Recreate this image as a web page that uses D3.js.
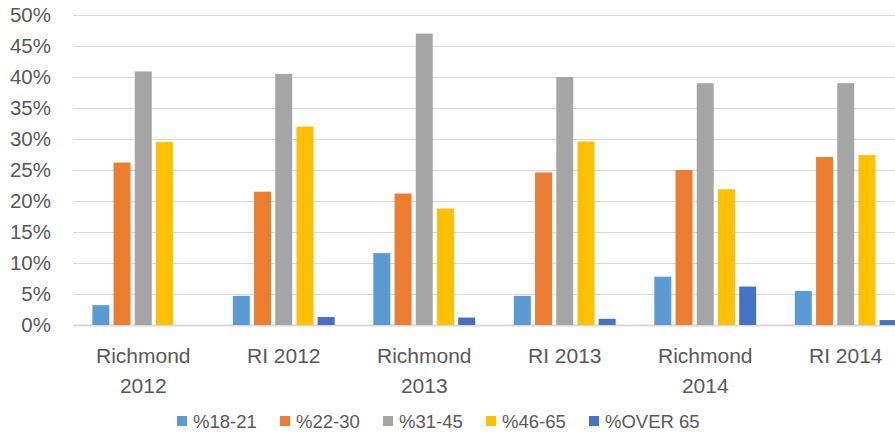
<!DOCTYPE html>
<html>
<head>
<meta charset="utf-8">
<script src="https://cdn.jsdelivr.net/npm/d3@7"></script>
<style>
  html, body { margin: 0; padding: 0; background: #fff; overflow: hidden; }
  svg { display: block; }
  text { font-family: "Liberation Sans", Arial, sans-serif; fill: #595959; }
</style>
</head>
<body>
<svg id="chart" width="895" height="433"></svg>
<script>
// ---- Data ----
const categories = ["Richmond 2012", "RI 2012", "Richmond 2013", "RI 2013", "Richmond 2014", "RI 2014"];
const seriesNames = ["%18-21", "%22-30", "%31-45", "%46-65", "%OVER 65"];
const seriesColors = ["#5B9BD5", "#ED7D31", "#A5A5A5", "#FFC000", "#4472C4"];
const s18_21  = [3.2, 4.7, 11.6, 4.7, 7.8, 5.5];
const s22_30  = [26.2, 21.5, 21.2, 24.6, 25.0, 27.1];
const s31_45  = [40.9, 40.5, 47.0, 40.0, 39.0, 39.0];
const s46_65  = [29.5, 32.0, 18.8, 29.6, 21.9, 27.4];
const sOver65 = [0.0, 1.3, 1.2, 1.0, 6.2, 0.8];
const yTicks = [0, 5, 10, 15, 20, 25, 30, 35, 40, 45, 50];

const seriesValues = [s18_21, s22_30, s31_45, s46_65, sOver65];

// ---- Layout ----
const svg = d3.select("#chart");
const plotLeft = 73, plotRight = 916, plotTop = 15, plotBottom = 325;

const y = d3.scaleLinear().domain([0, 50]).range([plotBottom, plotTop]);
const x0 = d3.scaleBand().domain(categories).range([plotLeft, plotRight])
  .paddingInner(0.23).paddingOuter(0.115);
const x1 = d3.scaleBand().domain(seriesNames).range([0, x0.bandwidth()])
  .paddingInner(0.2).paddingOuter(0.15);

// Gridlines
svg.append("g").selectAll("line").data(yTicks).join("line")
  .attr("x1", plotLeft).attr("x2", 895)
  .attr("y1", d => y(d) + 0.5).attr("y2", d => y(d) + 0.5)
  .attr("stroke", "#d9d9d9")
  .attr("stroke-width", d => d === 0 ? 2 : 1.2);

// Y tick labels
svg.append("g").selectAll("text").data(yTicks).join("text")
  .attr("x", 51).attr("y", d => y(d))
  .attr("dy", "0.36em")
  .attr("text-anchor", "end")
  .attr("font-size", "20.5px")
  .text(d => d + "%");

// Bars
const groups = svg.append("g").selectAll("g").data(categories).join("g")
  .attr("transform", c => `translate(${x0(c)},0)`);
groups.selectAll("rect")
  .data((c, ci) => seriesNames.map((s, si) => ({ s, si, v: seriesValues[si][ci] })))
  .join("rect")
  .attr("x", d => x1(d.s))
  .attr("width", x1.bandwidth())
  .attr("y", d => y(d.v))
  .attr("height", d => y(0) - y(d.v))
  .attr("fill", d => seriesColors[d.si]);

// Category labels
const catLabels = svg.append("g").selectAll("text").data(categories).join("text")
  .attr("text-anchor", "middle")
  .attr("font-size", "21px")
  .attr("transform", c => `translate(${x0(c) + x0.bandwidth() / 2},0)`);
catLabels.each(function(c) {
  const t = d3.select(this);
  const words = c.startsWith("Richmond") ? ["Richmond", c.split(" ")[1]] : [c];
  words.forEach((w, i) => {
    t.append("tspan").attr("x", 0).attr("y", 363 + i * 30).text(w);
  });
});

// Legend
const legend = svg.append("g").selectAll("g").data(seriesNames).join("g")
  .attr("transform", (d, i) => `translate(${177 + i * 103},0)`);
legend.append("rect")
  .attr("x", 0).attr("y", 416).attr("width", 10).attr("height", 10)
  .attr("fill", (d, i) => seriesColors[i]);
legend.append("text")
  .attr("x", 16).attr("y", 421).attr("dy", "0.36em")
  .attr("font-size", "18.5px")
  .text(d => d);
</script>
</body>
</html>
